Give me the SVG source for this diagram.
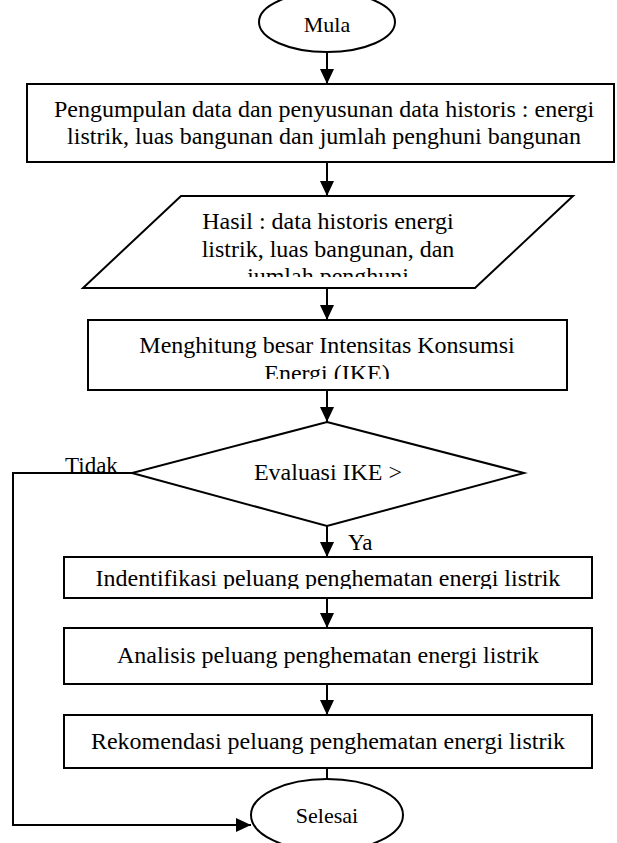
<svg xmlns="http://www.w3.org/2000/svg" width="617" height="843" viewBox="0 0 617 843">
<style>
.s{fill:#fff;stroke:#000;stroke-width:2}
.t{font-family:"Liberation Serif","Times New Roman",serif;font-size:24px;fill:#000;text-anchor:middle}
.e{font-family:"Liberation Serif","Times New Roman",serif;font-size:22px;fill:#000;text-anchor:middle}
.l{font-family:"Liberation Serif","Times New Roman",serif;font-size:23px;fill:#000}
.c{fill:none;stroke:#000;stroke-width:2}
</style>
<defs>
<marker id="ah" markerUnits="userSpaceOnUse" markerWidth="15" markerHeight="14" refX="15" refY="7" orient="auto">
<path d="M0,0 L15,7 L0,14 z" fill="#000"/>
</marker>
<clipPath id="cp1"><rect x="0" y="196" width="617" height="81"/></clipPath>
<clipPath id="cp2"><rect x="0" y="320" width="617" height="59"/></clipPath>
<clipPath id="cp3"><rect x="0" y="557" width="617" height="32"/></clipPath>
</defs>
<rect width="617" height="843" fill="#fff"/>
<g id="connectors">
<line class="c" x1="327" y1="52" x2="327" y2="84" marker-end="url(#ah)"/>
<line class="c" x1="327" y1="162" x2="327" y2="196" marker-end="url(#ah)"/>
<line class="c" x1="327" y1="288" x2="327" y2="320" marker-end="url(#ah)"/>
<line class="c" x1="327" y1="390" x2="327" y2="422" marker-end="url(#ah)"/>
<line class="c" x1="327" y1="526" x2="327" y2="557" marker-end="url(#ah)"/>
<line class="c" x1="327" y1="598" x2="327" y2="628" marker-end="url(#ah)"/>
<line class="c" x1="327" y1="684" x2="327" y2="715" marker-end="url(#ah)"/>
<polyline class="c" points="132,473 13,473 13,825 251,825" marker-end="url(#ah)"/>
<text class="l" x="65" y="473">Tidak</text>
<text class="l" x="348" y="550">Ya</text>
</g>
<g id="mula">
<ellipse class="s" cx="327" cy="22" rx="68" ry="30"/>
<text class="e" x="327" y="32">Mula</text>
</g>
<g id="pengumpulan">
<rect class="s" x="27" y="84" width="587" height="78"/>
<text class="t" x="324" y="117">Pengumpulan data dan penyusunan data historis : energi</text>
<text class="t" x="324" y="144">listrik, luas bangunan dan jumlah penghuni bangunan</text>
</g>
<g id="hasil">
<polygon class="s" points="181,196 573,196 475,288 83,288"/>
<g clip-path="url(#cp1)">
<text class="t" x="328" y="229">Hasil : data historis energi</text>
<text class="t" x="328" y="257">listrik, luas bangunan, dan</text>
<text class="t" x="328" y="284">jumlah penghuni</text>
</g>
</g>
<g id="menghitung">
<rect class="s" x="88" y="320" width="479" height="70"/>
<g clip-path="url(#cp2)">
<text class="t" x="327" y="353">Menghitung besar Intensitas Konsumsi</text>
<text class="t" x="327" y="381">Energi (IKE)</text>
</g>
</g>
<g id="evaluasi">
<polygon class="s" points="327,422 524,473 327,526 132,473"/>
<text class="t" x="328" y="480">Evaluasi IKE &gt;</text>
</g>
<g id="identifikasi">
<rect class="s" x="64" y="557" width="528" height="41"/>
<g clip-path="url(#cp3)">
<text class="t" x="328" y="586">Indentifikasi peluang penghematan energi listrik</text>
</g>
</g>
<g id="analisis">
<rect class="s" x="64" y="628" width="528" height="56"/>
<text class="t" x="328" y="663">Analisis peluang penghematan energi listrik</text>
</g>
<g id="rekomendasi">
<rect class="s" x="64" y="715" width="528" height="53"/>
<text class="t" x="328" y="749">Rekomendasi peluang penghematan energi listrik</text>
</g>
<g id="selesai">
<line class="c" x1="327" y1="768" x2="327" y2="797" marker-end="url(#ah)"/>
<ellipse class="s" cx="327" cy="815" rx="76" ry="36"/>
<text class="e" x="327" y="823">Selesai</text>
</g>
</svg>
